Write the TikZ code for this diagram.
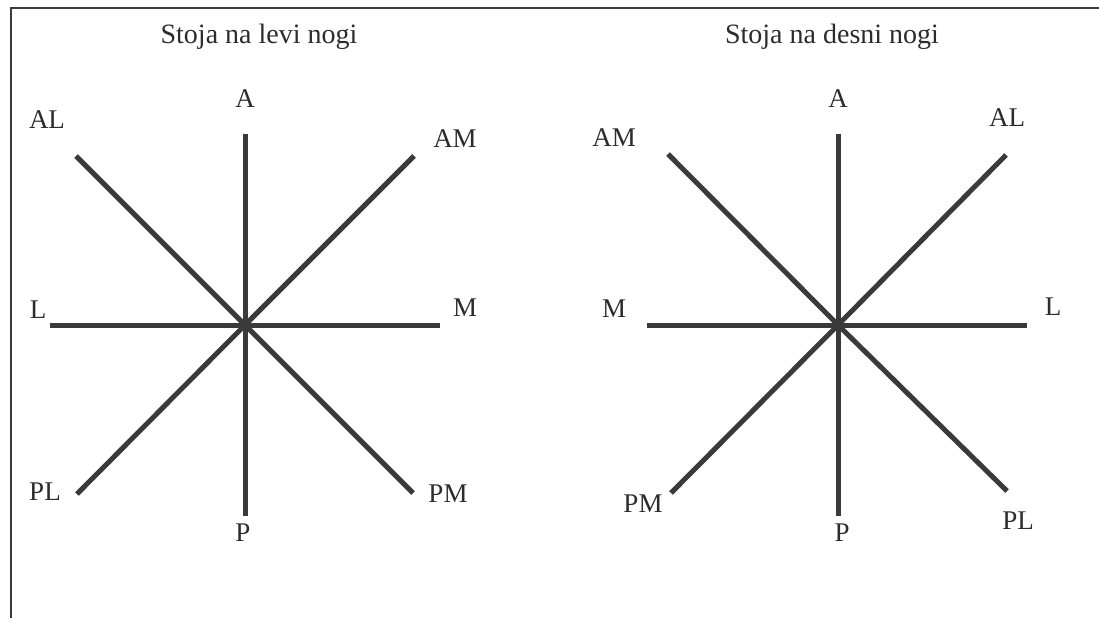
\documentclass[tikz,border=0pt]{standalone}
\usepackage{fontspec}
\setmainfont{Liberation Serif}
\begin{document}
\begin{tikzpicture}[x=1pt,y=-1pt,
  ray/.style={line width=5pt,draw=inkgray},
  frameline/.style={line width=1.8pt,draw=inkgray},
  lbl/.style={anchor=base,inner sep=0pt,font=\fontsize{27}{30}\selectfont,text=inkdark},
  ttl/.style={anchor=base,inner sep=0pt,font=\fontsize{28}{32}\selectfont,text=inkdark}]
\definecolor{inkgray}{HTML}{3A3A3A}
\definecolor{inkdark}{HTML}{2C2C2C}
\useasboundingbox (0,0) rectangle (1099,618);

% open frame: top and left edges
\coordinate (fbl) at (11,618);
\coordinate (ftl) at (11,8);
\coordinate (ftr) at (1099,8);
\draw[frameline] (fbl) -- (ftl) -- (ftr);

% ---------- left star: Stoja na levi nogi ----------
\node[ttl] (t1) at (259,44) {Stoja na levi nogi};
\coordinate (c1) at (245,325);
\coordinate (c1A)  at (245,134);
\coordinate (c1P)  at (245,516);
\coordinate (c1L)  at (50,325);
\coordinate (c1M)  at (440,325);
\coordinate (c1AL) at (76,156);
\coordinate (c1AM) at (414,156);
\coordinate (c1PL) at (77,494);
\coordinate (c1PM) at (413,493);
\foreach \e in {A,P,L,M,AL,AM,PL,PM} \draw[ray] (c1\e) -- (c1);
\node[lbl] (l1A)  at (245,107) {A};
\node[lbl] (l1AL) at (47,128)  {AL};
\node[lbl] (l1AM) at (455,147) {AM};
\node[lbl] (l1L)  at (38,318)  {L};
\node[lbl] (l1M)  at (465,316) {M};
\node[lbl] (l1PL) at (45,500)  {PL};
\node[lbl] (l1PM) at (448,502) {PM};
\node[lbl] (l1P)  at (243,541) {P};

% ---------- right star: Stoja na desni nogi ----------
\node[ttl] (t2) at (832,44) {Stoja na desni nogi};
\coordinate (c2) at (838,325);
\coordinate (c2A)  at (838,134);
\coordinate (c2P)  at (838,516);
\coordinate (c2M)  at (647,325);
\coordinate (c2L)  at (1027,325);
\coordinate (c2AM) at (668,154);
\coordinate (c2AL) at (1006,155);
\coordinate (c2PM) at (671,493);
\coordinate (c2PL) at (1007,491);
\foreach \e in {A,P,L,M,AL,AM,PL,PM} \draw[ray] (c2\e) -- (c2);
\node[lbl] (l2A)  at (838,107) {A};
\node[lbl] (l2AL) at (1007,126) {AL};
\node[lbl] (l2AM) at (614,146) {AM};
\node[lbl] (l2M)  at (614,317) {M};
\node[lbl] (l2L)  at (1053,315) {L};
\node[lbl] (l2PM) at (643,512) {PM};
\node[lbl] (l2P)  at (842,541) {P};
\node[lbl] (l2PL) at (1018,529) {PL};
\end{tikzpicture}
\end{document}
